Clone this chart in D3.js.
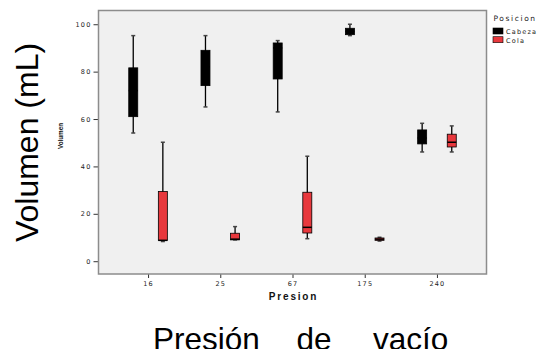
<!DOCTYPE html>
<html>
<head>
<meta charset="utf-8">
<script src="https://cdn.jsdelivr.net/npm/d3@7"></script>
<style>
  body { margin: 0; background: #fff; }
  svg { display: block; }
</style>
</head>
<body>
<svg id="chart" width="540" height="349"></svg>
<script>
// categories on the x axis (Presion) and the two groups (Posicion)
var categories = ["16", "25", "67", "175", "240"];
var series = ["Cabeza", "Cola"];
var seriesColors = ["#000000", "#e8383d"];
var yTicks = [0, 20, 40, 60, 80, 100];

// box plot stats
var cabezaMin    = [54.1, 65.1, 63.0, 95.2, 46.1];
var cabezaQ1     = [61.0, 74.1, 76.9, 95.6, 49.5];
var cabezaMedian = [72.0, 82.0, 90.0, 97.0, 52.0];
var cabezaQ3     = [81.6, 89.0, 92.1, 98.3, 55.4];
var cabezaMax    = [95.2, 95.2, 93.1, 100.0, 58.2];

var colaMin    = [8.3, 9.0, 9.5, 8.5, 46.1];
var colaQ1     = [8.8, 9.0, 11.9, 8.8, 48.2];
var colaMedian = [8.8, 9.3, 14.3, 9.3, 50.2];
var colaQ3     = [29.4, 11.8, 29.1, 9.8, 53.6];
var colaMax    = [50.2, 14.6, 44.3, 10.1, 57.1];

var svg = d3.select("#chart");

var plotLeft = 98.5, plotRight = 486.5, plotTop = 10.5, plotBottom = 274;
var boxWidth = 9;

var x = d3.scalePoint().domain(categories).range([plotLeft, plotRight]).padding(0.686);
var offset = d3.scalePoint().domain(series).range([-14.8, 14.8]);
var y = d3.scaleLinear().domain([-5.4, 105.8]).range([plotBottom, plotTop]);
var color = d3.scaleOrdinal().domain(series).range(seriesColors);

function buildBoxes(name, mins, q1s, medians, q3s, maxs) {
  return categories.map(function(c, i) {
    return {series: name, category: c, min: mins[i], q1: q1s[i], median: medians[i], q3: q3s[i], max: maxs[i]};
  });
}

var boxes = buildBoxes("Cabeza", cabezaMin, cabezaQ1, cabezaMedian, cabezaQ3, cabezaMax)
  .concat(buildBoxes("Cola", colaMin, colaQ1, colaMedian, colaQ3, colaMax));

// plot background
svg.append("rect").attr("x", plotLeft).attr("y", plotTop)
  .attr("width", plotRight - plotLeft).attr("height", plotBottom - plotTop)
  .attr("fill", "#f0f0f0");

// y axis
var yAxis = svg.append("g").attr("transform", "translate(" + plotLeft + ",0)")
  .call(d3.axisLeft(y).tickValues(yTicks).tickSize(5).tickPadding(2));
yAxis.select(".domain").remove();
yAxis.selectAll("line").attr("stroke", "#333").attr("stroke-width", 1);
yAxis.selectAll("text").attr("font-family", "DejaVu Sans").attr("font-size", 6.5)
  .attr("letter-spacing", 1.2).attr("fill", "#222");

// x axis
var xAxis = svg.append("g").attr("transform", "translate(0," + plotBottom + ")")
  .call(d3.axisBottom(x).tickSize(4).tickPadding(3));
xAxis.select(".domain").remove();
xAxis.selectAll("line").attr("stroke", "#333").attr("stroke-width", 1);
xAxis.selectAll("text").attr("font-family", "DejaVu Sans").attr("font-size", 6.5)
  .attr("letter-spacing", 1.2).attr("fill", "#222");

// frame
svg.append("rect").attr("x", plotLeft).attr("y", plotTop)
  .attr("width", plotRight - plotLeft).attr("height", plotBottom - plotTop)
  .attr("fill", "none").attr("stroke", "#8c8c8c").attr("stroke-width", 1.5);

// boxes
var g = svg.selectAll("g.box").data(boxes).enter().append("g").attr("class", "box")
  .attr("transform", function(d) { return "translate(" + (x(d.category) + offset(d.series)) + ",0)"; });

g.append("line").attr("x1", 0).attr("x2", 0)
  .attr("y1", function(d) { return y(d.max); }).attr("y2", function(d) { return y(d.min); })
  .attr("stroke", "#000").attr("stroke-width", 1.3);

g.append("line").attr("x1", -2).attr("x2", 2)
  .attr("y1", function(d) { return y(d.max); }).attr("y2", function(d) { return y(d.max); })
  .attr("stroke", "#444").attr("stroke-width", 1.5);
g.append("line").attr("x1", -2).attr("x2", 2)
  .attr("y1", function(d) { return y(d.min); }).attr("y2", function(d) { return y(d.min); })
  .attr("stroke", "#444").attr("stroke-width", 1.5);

g.append("rect").attr("x", -boxWidth / 2).attr("width", boxWidth)
  .attr("y", function(d) { return y(d.q3); })
  .attr("height", function(d) { return Math.max(1, y(d.q1) - y(d.q3)); })
  .attr("fill", function(d) { return color(d.series); })
  .attr("stroke", "#000").attr("stroke-width", 0.8);

g.append("line").attr("x1", -boxWidth / 2).attr("x2", boxWidth / 2)
  .attr("y1", function(d) { return y(d.median); }).attr("y2", function(d) { return y(d.median); })
  .attr("stroke", "#000").attr("stroke-width", 1.5);

// axis titles
svg.append("text").text("Presion")
  .attr("x", (plotLeft + plotRight) / 2 + 1).attr("y", 299.5)
  .attr("text-anchor", "middle").attr("font-family", "Liberation Sans")
  .attr("font-weight", "bold").attr("font-size", 10).attr("letter-spacing", 1.8).attr("fill", "#111");

svg.append("text").text("Volumen")
  .attr("transform", "translate(62.7,136) rotate(-90)")
  .attr("text-anchor", "middle").attr("font-family", "Liberation Sans")
  .attr("font-weight", "bold").attr("font-size", 6.3).attr("fill", "#111");

svg.append("text").text("Volumen (mL)")
  .attr("transform", "translate(37.5,142.5) rotate(-90)")
  .attr("text-anchor", "middle").attr("font-family", "Liberation Sans")
  .attr("font-size", 32).attr("fill", "#000");

var bottomWords = ["Presión", "de", "vacío"];
var bottomX = [153, 296.5, 373];
svg.append("g").selectAll("text").data(bottomWords).enter().append("text")
  .text(function(d) { return d; })
  .attr("x", function(d, i) { return bottomX[i]; }).attr("y", 349.5)
  .attr("font-family", "Liberation Sans").attr("font-size", 31.5).attr("fill", "#000");

// legend
var legend = svg.append("g").attr("transform", "translate(493,0)");
legend.append("text").text("Posicion").attr("x", 0.5).attr("y", 21)
  .attr("font-family", "DejaVu Sans").attr("font-size", 7.5).attr("letter-spacing", 1.6).attr("fill", "#222");
var item = legend.selectAll("g.item").data(series).enter().append("g").attr("class", "item")
  .attr("transform", function(d, i) { return "translate(0," + (28 + i * 8.7) + ")"; });
item.append("rect").attr("width", 10).attr("height", 6)
  .attr("fill", function(d) { return color(d); }).attr("stroke", "#000").attr("stroke-width", 0.6);
item.append("text").text(function(d) { return d; }).attr("x", 13).attr("y", 6)
  .attr("font-family", "DejaVu Sans").attr("font-size", 6.5).attr("letter-spacing", 1.2).attr("fill", "#222");
</script>
</body>
</html>
